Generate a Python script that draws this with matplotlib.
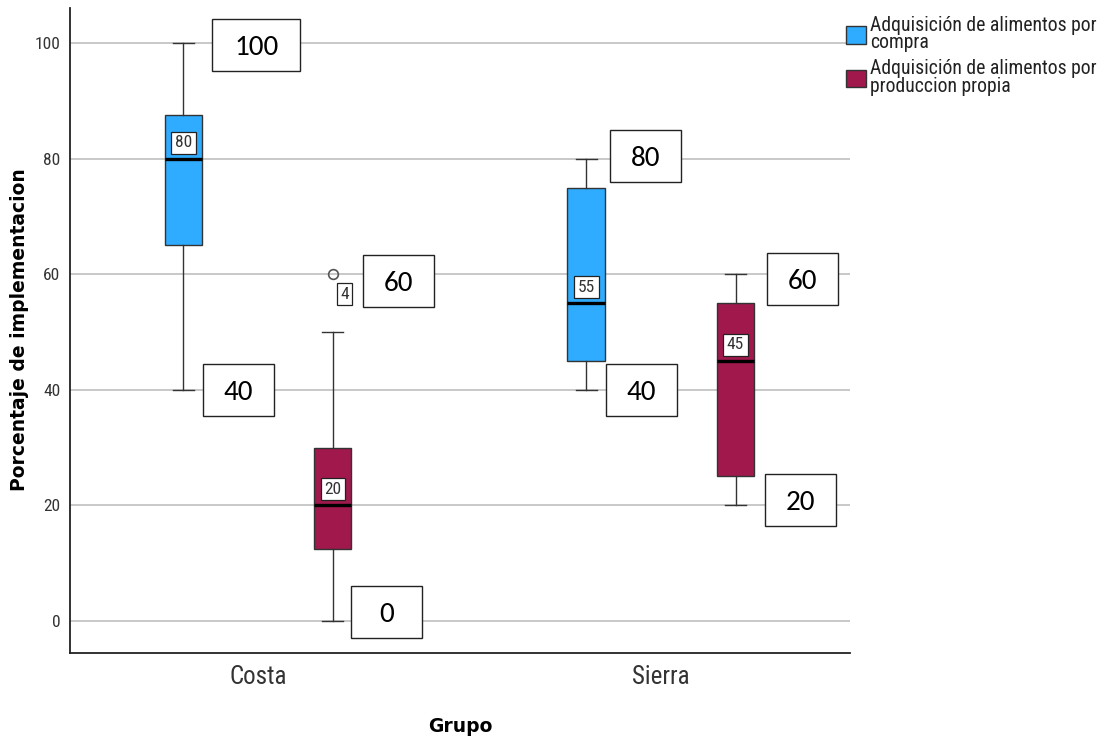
import matplotlib
matplotlib.use('Agg')
import matplotlib.pyplot as plt
import matplotlib.transforms as mtransforms
from matplotlib.patches import Patch, Rectangle

# data
groups = ['Costa', 'Sierra']
series = ['Adquisición de alimentos por\ncompra',
          'Adquisición de alimentos por\nproduccion propia']
colors = ['#2FACFF', '#A0184C']

# rows = group, cols = series (compra, produccion propia)
whisker_low = [[40, 0], [40, 20]]
q1 = [[65, 12.5], [45, 25]]
median = [[80, 20], [55, 45]]
q3 = [[87.5, 30], [75, 55]]
whisker_high = [[100, 50], [80, 60]]
outliers = [[[], [60]], [[], []]]
outlier_ids = [[[], ['4']], [[], []]]

# label box offsets (pixels, x right / y up) for max and min labels
max_offsets = [[(73, -2), (66, -7)], [(59, 3), (67, -5)]]
min_offsets = [[(55, 0), (54, 9)], [(55, 0), (65, 5)]]

NARROW = ['Roboto Condensed', 'DejaVu Sans']
BIGFONT = ['Carlito', 'DejaVu Sans']
BOLD = ['DejaVu Sans']

fig = plt.figure(figsize=(11.02, 7.40), dpi=100)
ax = fig.add_axes([70 / 1102, 1 - 653 / 740, 780 / 1102, 645 / 740])

offset = 0.185
width = 0.094

for gi, g in enumerate(groups):
    for si in range(len(series)):
        pos = gi + (si * 2 - 1) * offset
        stats = [{
            'whislo': whisker_low[gi][si], 'q1': q1[gi][si], 'med': median[gi][si],
            'q3': q3[gi][si], 'whishi': whisker_high[gi][si], 'fliers': outliers[gi][si],
        }]
        ax.bxp(stats, positions=[pos], widths=width, capwidths=0.05, patch_artist=True,
               boxprops=dict(facecolor=colors[si], edgecolor='#333333', linewidth=1.0),
               medianprops=dict(color='black', linewidth=2.4),
               whiskerprops=dict(color='#333333', linewidth=1.0),
               capprops=dict(color='#333333', linewidth=1.0),
               flierprops=dict(marker='o', markerfacecolor='none', markeredgecolor='#555555',
                               markersize=7, markeredgewidth=1.2),
               manage_ticks=False, zorder=3)

        # median value label
        mtr = mtransforms.offset_copy(ax.transData, fig=fig, x=0, y=16, units='dots')
        ax.text(pos, median[gi][si], f'{median[gi][si]:g}', transform=mtr, ha='center', va='center',
                fontsize=12.5, family=NARROW, color='#333333', zorder=6,
                bbox=dict(boxstyle='square,pad=0.2', fc='white', ec='#222222', lw=0.9))

        # outlier id labels
        for val, lab in zip(outliers[gi][si], outlier_ids[gi][si]):
            otr = mtransforms.offset_copy(ax.transData, fig=fig, x=12, y=-20, units='dots')
            ax.text(pos, val, lab, transform=otr, ha='center', va='center',
                    fontsize=12.5, family=NARROW, color='#333333', zorder=6,
                    bbox=dict(boxstyle='square,pad=0.2', fc='white', ec='#222222', lw=0.9))

        # max / min boxes
        vmax = max([whisker_high[gi][si]] + outliers[gi][si])
        vmin = min([whisker_low[gi][si]] + outliers[gi][si])
        for val, (dx, dy) in [(vmax, max_offsets[gi][si]), (vmin, min_offsets[gi][si])]:
            txt = f'{val:g}'
            w = 88 if len(txt) == 3 else 71
            h = 52
            rtr = fig.dpi_scale_trans + mtransforms.ScaledTranslation(pos, val, ax.transData)
            ax.add_patch(Rectangle(((dx - w / 2) / fig.dpi, (dy - h / 2) / fig.dpi),
                                   w / fig.dpi, h / fig.dpi, transform=rtr,
                                   fc='white', ec='#222222', lw=1.0, zorder=5, clip_on=False))
            ttr = mtransforms.offset_copy(ax.transData, fig=fig, x=dx, y=dy, units='dots')
            ax.text(pos, val, txt, transform=ttr, ha='center', va='center_baseline',
                    fontsize=21, family=BIGFONT, color='black', zorder=6)

ax.set_xlim(-0.4665, 1.469)
ax.set_ylim(-5.54, 106.06)
ax.set_yticks([0, 20, 40, 60, 80, 100])
ax.set_xticks(range(len(groups)))
ax.set_xticklabels(groups, fontsize=18, family=NARROW, color='#333333')
for lbl in ax.get_yticklabels():
    lbl.set_fontsize(12.5)
    lbl.set_family(NARROW)
    lbl.set_color('#333333')
ax.tick_params(axis='both', length=0)
ax.tick_params(axis='y', pad=7)
ax.tick_params(axis='x', pad=9)
ax.yaxis.grid(True, color='#C4C4C4', linewidth=1.3, zorder=0)
ax.set_axisbelow(True)
for side in ['top', 'right']:
    ax.spines[side].set_visible(False)
for side in ['left', 'bottom']:
    ax.spines[side].set_linewidth(1.3)
    ax.spines[side].set_color('#222222')

ax.set_ylabel('Porcentaje de implementacion', fontsize=13.5, fontweight='bold', family=BOLD)
ax.yaxis.set_label_coords(-0.0526, 0.5008)
ax.set_xlabel('Grupo', fontsize=13.5, fontweight='bold', family=BOLD, labelpad=20)

handles = [Patch(facecolor=c, edgecolor='#333333', linewidth=1.0) for c in colors]
leg = fig.legend(handles, series, loc='upper left', bbox_to_anchor=(846 / 1102, 1 - 16 / 740),
                 frameon=False, prop=dict(family=NARROW, size=14.2), handlelength=1.0,
                 handleheight=1.0, handletextpad=0.2, labelspacing=0.35, borderpad=0,
                 borderaxespad=0)
for t in leg.get_texts():
    t.set_linespacing(0.9)
    t.set_color('#222222')

fig.savefig('out.png', dpi=100)
